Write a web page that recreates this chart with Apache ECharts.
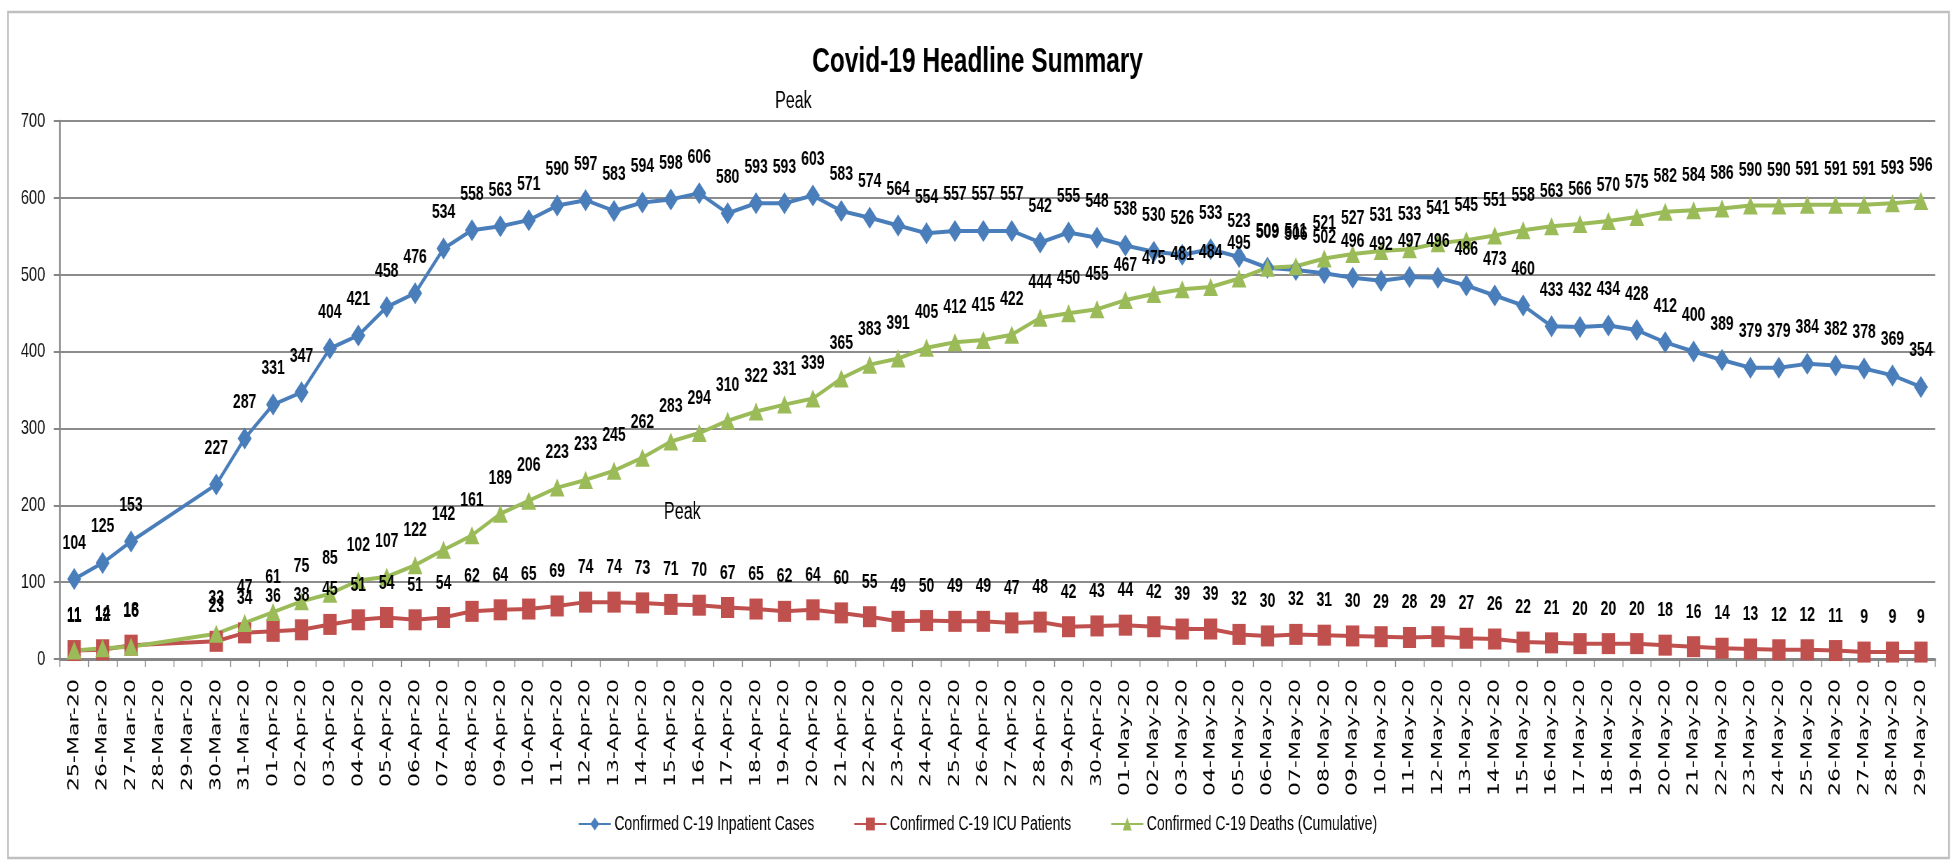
<!DOCTYPE html>
<html>
<head>
<meta charset="utf-8">
<script src="https://cdn.jsdelivr.net/npm/echarts@6/dist/echarts.min.js"></script>
<style>
html,body{margin:0;padding:0;background:#fff;overflow:hidden;width:1955px;height:864px;}
#chart{width:2793px;height:864px;transform:scaleX(0.7);transform-origin:0 0;}
</style>
</head>
<body>
<div id="chart"></div>
<script>
const categories = [
 '25-Mar-20','26-Mar-20','27-Mar-20','28-Mar-20','29-Mar-20','30-Mar-20','31-Mar-20',
 '01-Apr-20','02-Apr-20','03-Apr-20','04-Apr-20','05-Apr-20','06-Apr-20','07-Apr-20','08-Apr-20','09-Apr-20','10-Apr-20',
 '11-Apr-20','12-Apr-20','13-Apr-20','14-Apr-20','15-Apr-20','16-Apr-20','17-Apr-20','18-Apr-20','19-Apr-20','20-Apr-20',
 '21-Apr-20','22-Apr-20','23-Apr-20','24-Apr-20','25-Apr-20','26-Apr-20','27-Apr-20','28-Apr-20','29-Apr-20','30-Apr-20',
 '01-May-20','02-May-20','03-May-20','04-May-20','05-May-20','06-May-20','07-May-20','08-May-20','09-May-20','10-May-20',
 '11-May-20','12-May-20','13-May-20','14-May-20','15-May-20','16-May-20','17-May-20','18-May-20','19-May-20','20-May-20',
 '21-May-20','22-May-20','23-May-20','24-May-20','25-May-20','26-May-20','27-May-20','28-May-20','29-May-20'
];
const inpatient = [
 104,125,153,null,null,227,287,
 331,347,404,421,458,476,534,558,563,571,
 590,597,583,594,598,606,580,593,593,603,
 583,574,564,554,557,557,557,542,555,548,
 538,530,526,533,523,509,506,502,496,492,
 497,496,486,473,460,433,432,434,428,412,
 400,389,379,379,384,382,378,369,354
];
const icu = [
 11,12,18,null,null,23,34,
 36,38,45,51,54,51,54,62,64,65,
 69,74,74,73,71,70,67,65,62,64,
 60,55,49,50,49,49,47,48,42,43,
 44,42,39,39,32,30,32,31,30,29,
 28,29,27,26,22,21,20,20,20,18,
 16,14,13,12,12,11,9,9,9
];
const deaths = [
 11,14,16,null,null,33,47,
 61,75,85,102,107,122,142,161,189,206,
 223,233,245,262,283,294,310,322,331,339,
 365,383,391,405,412,415,422,444,450,455,
 467,475,481,484,495,509,511,521,527,531,
 533,541,545,551,558,563,566,570,575,582,
 584,586,590,590,591,591,591,593,596
];
const seriesNames = ['Confirmed C-19 Inpatient Cases','Confirmed C-19 ICU Patients','Confirmed C-19 Deaths (Cumulative)'];
const yTicks = {min:0, max:700, interval:100};
const annotationText = 'Peak';

const SX = 0.7; // horizontal compression of the whole drawing
const FONT = "'Liberation Sans',Arial,sans-serif";
const chart = echarts.init(document.getElementById('chart'), null, {renderer:'canvas'});

function lineSeries(name, data, color, symbol, size, dist){
  return {
    name, type:'line', data, connectNulls:true,
    symbol, symbolSize:size,
    lineStyle:{color, width:4},
    itemStyle:{color},
    label:{show:true, position:'top', distance:dist, color:'#000', fontFamily:FONT, fontWeight:'bold', fontSize:20},
    z: 2
  };
}

chart.setOption({
  animation:false,
  backgroundColor:'#fff',
  title:{
    text:'Covid-19 Headline Summary', left:'center', top:40,
    textStyle:{fontFamily:FONT, fontWeight:'bold', fontSize:35, color:'#000'}
  },
  legend:{
    bottom:25, left:'center', itemWidth:46, itemHeight:16, itemGap:56,
    textStyle:{fontFamily:FONT, fontSize:20, color:'#000'},
    data:seriesNames
  },
  grid:{left:60/SX, right:20/SX, top:121, bottom:205, containLabel:false},
  xAxis:{
    type:'category', data:categories, boundaryGap:true,
    axisLine:{lineStyle:{color:'#868686', width:3}},
    axisTick:{show:true, length:8, lineStyle:{color:'#868686', width:1.4}},
    axisLabel:{rotate:90, interval:0, margin:20, color:'#000', fontFamily:"'DejaVu Sans',sans-serif", fontSize:22}
  },
  yAxis:{
    type:'value', min:yTicks.min, max:yTicks.max, interval:yTicks.interval,
    axisLine:{show:true, lineStyle:{color:'#868686', width:2.5}},
    axisTick:{show:true, length:9, lineStyle:{color:'#868686', width:2}},
    splitLine:{lineStyle:{color:'#8c8c8c', width:2}},
    axisLabel:{margin:21, color:'#111', fontFamily:FONT, fontSize:21}
  },
  graphic:[
    {type:'rect', shape:{x:8/SX, y:12, width:1941/SX, height:846}, style:{fill:'none', stroke:'#bfbfbf', lineWidth:2.5}, z:-10},
    {type:'text', left:775/SX, top:90, style:{text:annotationText, fontFamily:FONT, fontSize:23, fill:'#000'}, z:10},
    {type:'text', left:664/SX, top:501, style:{text:annotationText, fontFamily:FONT, fontSize:23, fill:'#000'}, z:10}
  ],
  series:[
    lineSeries(seriesNames[0], inpatient, '#4a7ebb', 'diamond', [20,22], 15),
    lineSeries(seriesNames[1], icu, '#c0504d', 'rect', [19,21], 14),
    lineSeries(seriesNames[2], deaths, '#9bbb59', 'triangle', [21,18], 16)
  ]
});
</script>
</body>
</html>
